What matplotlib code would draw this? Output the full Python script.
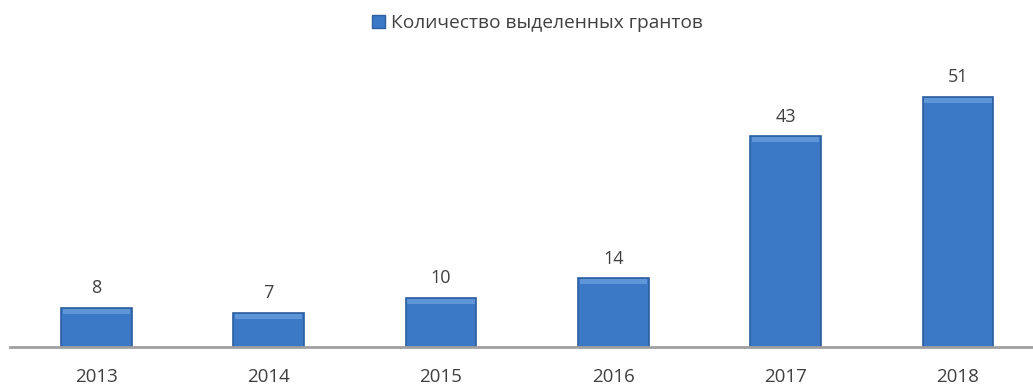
import numpy as np
import matplotlib.pyplot as plt
from matplotlib.patches import Rectangle

plt.rcParams['font.family'] = ['Open Sans', 'DejaVu Sans']

years = ['2013', '2014', '2015', '2016', '2017', '2018']
grants = [8, 7, 10, 14, 43, 51]
legend_label = 'Количество выделенных грантов'

bar_color = '#3b78c6'
edge_color = '#2b5f9e'
text_color = '#404040'

fig = plt.figure(figsize=(10.33, 3.87), dpi=100)
ax = fig.add_axes([10 / 1033, 40 / 387, 1 - 10 / 1033, 294 / 387])

x = np.arange(len(years))
bars = ax.bar(x, grants, width=0.41, color=bar_color, edgecolor=edge_color,
              linewidth=1.2, zorder=2)

# light strip on top of each bar (bevel look)
for b in bars:
    ax.add_patch(Rectangle((b.get_x() + 0.01, b.get_height() - 1.2),
                           b.get_width() - 0.02, 1.0,
                           color='#6fa3e0', alpha=0.7, lw=0, zorder=3))

for xi, v in zip(x, grants):
    ax.text(xi, v + 2.2, str(v), ha='center', va='bottom',
            fontsize=13, color=text_color)

ax.set_xlim(-0.5, 5.435)
ax.set_ylim(0, 60)
ax.set_xticks(x)
ax.set_xticklabels(years, fontsize=13.5, color=text_color)
ax.tick_params(axis='x', length=0, pad=15)
ax.set_yticks([])
for s in ['top', 'right', 'left']:
    ax.spines[s].set_visible(False)
ax.spines['bottom'].set_color('#a0a0a0')
ax.spines['bottom'].set_linewidth(2)

handle = Rectangle((0, 0), 1, 1, facecolor=bar_color, edgecolor=edge_color)
fig.legend([handle], [legend_label], loc='center', bbox_to_anchor=(0.52, 0.94),
           frameon=False, fontsize=13.8, handlelength=0.7, handleheight=0.7,
           handletextpad=0.3, labelcolor=text_color)

fig.savefig('out.png', dpi=100)
